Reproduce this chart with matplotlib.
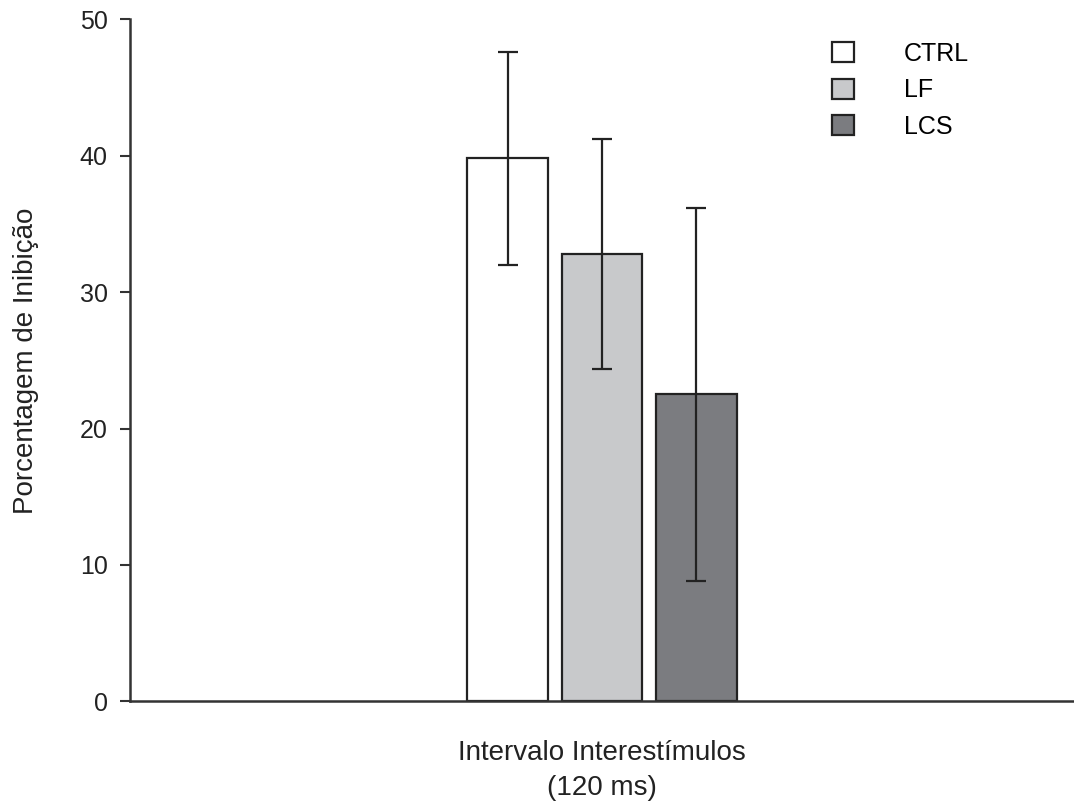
import matplotlib.pyplot as plt
from matplotlib.patches import Patch

# dados
grupos = ["CTRL", "LF", "LCS"]
medias = [39.8, 32.8, 22.5]
erros = [7.8, 8.4, 13.7]
cores = ["white", "#c8c9cb", "#7b7c80"]
posicoes = [-1, 0, 1]

plt.rcParams["font.family"] = ["Liberation Sans", "DejaVu Sans"]
plt.rcParams["font.size"] = 18

fig = plt.figure(figsize=(10.74, 8.07), dpi=100)
ax = fig.add_axes([0.121, 0.131, 0.879, 0.845])

ax.bar(posicoes, medias, width=0.85, color=cores, edgecolor="#222222",
       linewidth=1.6, zorder=2)
ax.errorbar(posicoes, medias, yerr=erros, fmt="none", ecolor="#222222",
            elinewidth=1.6, capsize=7.5, capthick=1.6, zorder=3)

ax.set_xlim(-5, 5)
ax.set_ylim(0, 50)
ax.set_yticks([0, 10, 20, 30, 40, 50])
ax.set_xticks([])
ax.spines["top"].set_visible(False)
ax.spines["right"].set_visible(False)
for s in ["left", "bottom"]:
    ax.spines[s].set_linewidth(1.8)
    ax.spines[s].set_color("#333333")
ax.tick_params(axis="y", length=7, width=1.5, color="#333333",
               labelsize=18, pad=9, labelcolor="#222222")

ax.set_ylabel("Porcentagem de Inibição", fontsize=20, color="#222222",
              labelpad=29)
ax.set_xlabel("Intervalo Interestímulos\n(120 ms)", fontsize=20,
              color="#222222", labelpad=28, linespacing=1.45)

handles = [Patch(facecolor=c, edgecolor="#222222", linewidth=1.6) for c in cores]
ax.legend(handles, grupos, loc="upper left", bbox_to_anchor=(0.72, 1.0),
          frameon=False, fontsize=18, handlelength=0.88, handleheight=0.88,
          handletextpad=2.0, labelspacing=0.5)

fig.savefig("out.png", dpi=100)
